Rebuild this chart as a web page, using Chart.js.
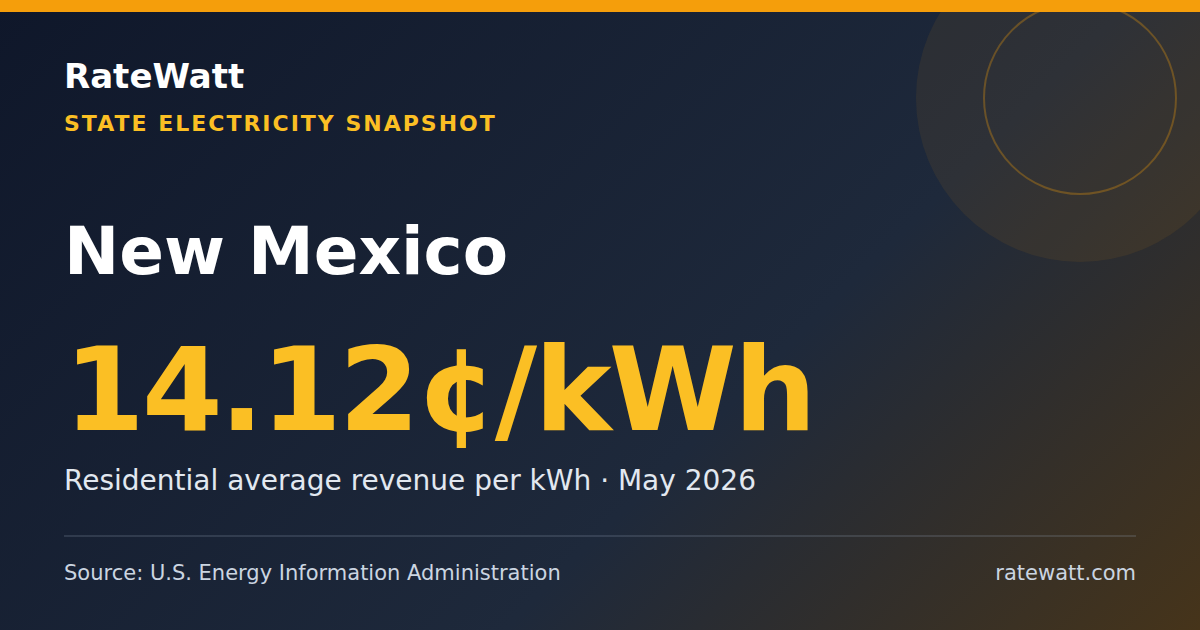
<!DOCTYPE html>
<html>
<head>
<meta charset="utf-8">
<script src="https://cdn.jsdelivr.net/npm/chart.js@4"></script>
<style>
  html, body { margin: 0; padding: 0; }
  body { width: 1200px; height: 630px; overflow: hidden; font-family: "DejaVu Sans", sans-serif; }
  #card {
    position: relative; width: 1200px; height: 630px; overflow: hidden;
    background: linear-gradient(135deg, #0f172a 0%, #1e293b 62%, #46341a 100%);
  }
  #topbar { position: absolute; left: 0; top: 0; width: 1200px; height: 12px; background: #f59e0b; z-index: 5; }
  #decor { position: absolute; left: 880px; top: -102px; width: 400px; height: 400px; z-index: 1; }
  .t { position: absolute; left: 64px; white-space: nowrap; line-height: normal; z-index: 2; }
  #brand { top: 56px; font-size: 34px; font-weight: bold; color: #ffffff; }
  #kicker { top: 111px; font-size: 22px; font-weight: bold; color: #fbbf24; letter-spacing: 2px; }
  #state { top: 213px; font-size: 66px; font-weight: bold; color: #ffffff; }
  #rate { top: 322px; font-size: 116px; font-weight: bold; color: #fbbf24; letter-spacing: -2.8px; }
  #sub { top: 464px; font-size: 28px; color: #e2e8f0; }
  #rule { position: absolute; left: 64px; top: 535px; width: 1072px; height: 2px; background: rgba(148,163,184,0.2); z-index: 2; }
  #source { top: 561px; font-size: 21px; color: #cbd5e1; }
  #site { top: 561px; left: auto; right: 64px; font-size: 21px; color: #cbd5e1; }
</style>
</head>
<body>
<div id="card">
  <div id="decor"><canvas id="c"></canvas></div>
  <div id="topbar"></div>
  <div class="t" id="brand"></div>
  <div class="t" id="kicker"></div>
  <div class="t" id="state"></div>
  <div class="t" id="rate"></div>
  <div class="t" id="sub"></div>
  <div id="rule"></div>
  <div class="t" id="source"></div>
  <div class="t" id="site"></div>
</div>
<script>
const brandName = "RateWatt";
const kicker = "STATE ELECTRICITY SNAPSHOT";
const stateName = "New Mexico";
const rateValues = [14.12];
const rateUnit = "¢/kWh";
const rateLabel = "Residential average revenue per kWh";
const periodLabel = "May 2026";
const sourceLabel = "Source: U.S. Energy Information Administration";
const siteLabel = "ratewatt.com";

document.getElementById('brand').textContent = brandName;
document.getElementById('kicker').textContent = kicker;
document.getElementById('state').textContent = stateName;
document.getElementById('rate').textContent = rateValues[0].toFixed(2) + rateUnit;
document.getElementById('sub').textContent = rateLabel + " · " + periodLabel;
document.getElementById('source').textContent = sourceLabel;
document.getElementById('site').textContent = siteLabel;

// Decorative circles drawn with Chart.js bubble chart
new Chart(document.getElementById('c'), {
  type: 'bubble',
  data: {
    datasets: [
      { data: [{ x: 0, y: 0, r: 164 }], backgroundColor: 'rgba(245,158,11,0.08)', borderWidth: 0, clip: false },
      { data: [{ x: 0, y: 0, r: 96 }], backgroundColor: 'rgba(0,0,0,0)', borderColor: 'rgba(245,158,11,0.3)', borderWidth: 2, clip: false }
    ]
  },
  options: {
    responsive: true,
    maintainAspectRatio: false,
    animation: false,
    events: [],
    layout: { padding: 0 },
    plugins: { legend: { display: false }, tooltip: { enabled: false } },
    scales: {
      x: { display: false, min: -1, max: 1 },
      y: { display: false, min: -1, max: 1 }
    }
  }
});
</script>
</body>
</html>
